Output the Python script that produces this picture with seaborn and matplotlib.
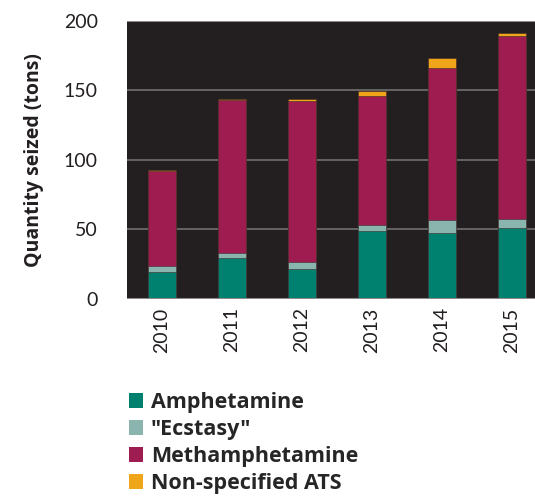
import matplotlib
matplotlib.use("Agg")
import matplotlib.pyplot as plt
import seaborn as sns
import pandas as pd
import numpy as np
from matplotlib.patches import Patch

years = ["2010", "2011", "2012", "2013", "2014", "2015"]
amphetamine = [19.6, 29.7, 21.8, 48.9, 47.7, 51.3]
ecstasy = [4.3, 3.6, 4.8, 4.3, 9.3, 6.2]
methamphetamine = [68.3, 109.9, 115.7, 92.7, 109.0, 131.7]
non_specified = [0.7, 0.7, 1.6, 3.8, 7.4, 1.7]

series_names = ["Amphetamine", '"Ecstasy"', "Methamphetamine", "Non-specified ATS"]
series_vals = [amphetamine, ecstasy, methamphetamine, non_specified]
colors = ["#00806F", "#8AB5AF", "#9E1C50", "#EFA51A"]

sns.set_theme(style="white")
plt.rcParams["font.family"] = ["Lato", "DejaVu Sans"]

fig = plt.figure(figsize=(5.35, 5.03), dpi=100)
ax = fig.add_axes([127/535, 1 - 299/503, 408/535, (299 - 20.7)/503])
ax.set_facecolor("#231F20")

cum = np.cumsum(np.array(series_vals), axis=0)
# draw top-most cumulative first so lower layers overlay
for i in range(len(series_names) - 1, -1, -1):
    df = pd.DataFrame({"year": years, "value": cum[i]})
    sns.barplot(data=df, x="year", y="value", color=colors[i], saturation=1,
                width=0.4, ax=ax, edgecolor="#3a2a2a", linewidth=0.4, zorder=3)

ax.set_ylim(0, 200)
ax.set_xlim(-0.5, 5.33)
ax.set_yticks([0, 50, 100, 150, 200])
ax.yaxis.grid(True, color="#707070", linewidth=1.2, zorder=0)
ax.set_axisbelow(True)
for s in ax.spines.values():
    s.set_visible(False)
ax.axhline(200, color="#8a8a8a", linewidth=1.5, zorder=1)
ax.axhline(0, color="#8a8a8a", linewidth=1.5, zorder=4)

ax.set_xlabel("")
ax.set_ylabel("Quantity seized (tons)", fontsize=14, fontweight="bold",
              family=["Open Sans", "DejaVu Sans"], color="#231F20", labelpad=14)
ax.tick_params(axis="y", labelsize=14, colors="#231F20", length=0, pad=21)
ax.tick_params(axis="x", labelsize=14, colors="#231F20", length=0, pad=6, labelrotation=90)

handles = [Patch(facecolor=c, edgecolor="none") for c in colors]
fig.legend(handles, series_names, loc="upper left", bbox_to_anchor=(129/535, 1 - 392/503),
           frameon=False, prop={"weight": "bold", "size": 15.5, "family": ["Open Sans", "DejaVu Sans"]},
           handlelength=0.66, handleheight=0.66, handletextpad=0.35, labelspacing=0.28,
           borderaxespad=0, borderpad=0)

fig.savefig("out.png", dpi=100)
